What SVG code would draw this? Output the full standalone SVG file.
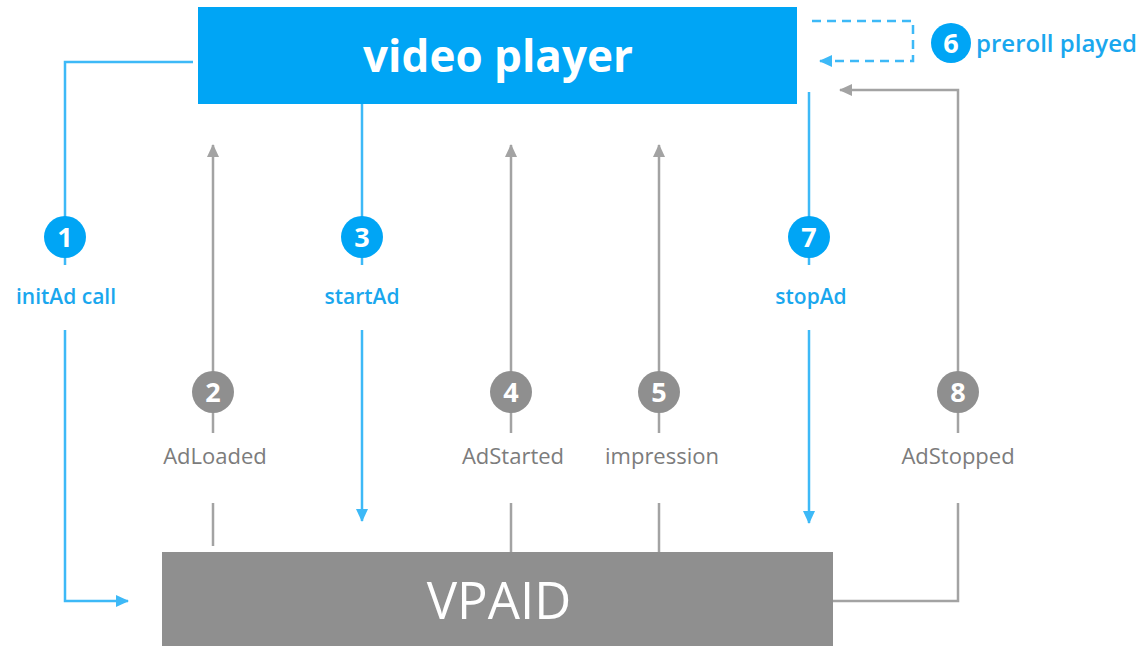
<svg xmlns="http://www.w3.org/2000/svg" width="1140" height="646" viewBox="0 0 1140 646">
<style>
.bl{fill:none;stroke:#3DB9F7;stroke-width:2.5}
.gl{fill:none;stroke:#A3A3A3;stroke-width:2.5}
.dl{fill:none;stroke:#3DB9F7;stroke-width:2.5;stroke-dasharray:9 6}
.bc{fill:#00A5F5}
.gc{fill:#8F8F8F}
.num{font-family:"Open Sans","Noto Sans",sans-serif;font-weight:700;font-size:27px;fill:#fff;text-anchor:middle}
.blab{font-family:"Open Sans","Noto Sans",sans-serif;font-weight:600;font-size:21px;fill:#1AA7EE;text-anchor:middle}
.glab{font-family:"Open Sans","Noto Sans",sans-serif;font-size:22px;fill:#7C7C7C;text-anchor:middle}
</style>
<defs>
<marker id="ab" markerWidth="14" markerHeight="12" refX="12" refY="6" orient="auto" markerUnits="userSpaceOnUse"><path d="M0,0 L13,6 L0,12 Z" fill="#3DB9F7"/></marker>
<marker id="ag" markerWidth="14" markerHeight="12" refX="12" refY="6" orient="auto" markerUnits="userSpaceOnUse"><path d="M0,0 L13,6 L0,12 Z" fill="#A3A3A3"/></marker>
</defs>
<rect width="1140" height="646" fill="#fff"/>
<g id="connectors">
<path class="bl" d="M193,62 H65 V265"/>
<path class="bl" d="M65,330 V601 H128" marker-end="url(#ab)"/>
<path class="bl" d="M362,104 V265"/>
<path class="bl" d="M362,330 V521" marker-end="url(#ab)"/>
<path class="bl" d="M809,92 V265"/>
<path class="bl" d="M809,330 V523" marker-end="url(#ab)"/>
<path class="gl" d="M213,546 V503"/>
<path class="gl" d="M213,433 V145" marker-end="url(#ag)"/>
<path class="gl" d="M511,552 V503"/>
<path class="gl" d="M511,433 V145" marker-end="url(#ag)"/>
<path class="gl" d="M659,552 V503"/>
<path class="gl" d="M659,433 V145" marker-end="url(#ag)"/>
<path class="gl" d="M833,601 H958 V503"/>
<path class="gl" d="M958,433 V90 H840" marker-end="url(#ag)"/>
<path class="dl" d="M812,21 H913 V61 H820" marker-end="url(#ab)"/>
</g>
<g id="video-player">
<rect x="198" y="7" width="599" height="97" fill="#00A5F5"/>
<text x="498" y="72" font-family="Open Sans,Noto Sans,sans-serif" font-weight="700" font-size="44" fill="#fff" text-anchor="middle">video player</text>
</g>
<g id="vpaid">
<rect x="162" y="552" width="671" height="94" fill="#8F8F8F"/>
<text x="499" y="619" font-family="Open Sans,Noto Sans,sans-serif" font-size="51" fill="#fff" text-anchor="middle">VPAID</text>
</g>
<g id="step1"><circle class="bc" cx="65" cy="237" r="21"/><text class="num" x="65" y="247">1</text><text class="blab" x="66" y="304">initAd call</text></g>
<g id="step2"><circle class="gc" cx="213" cy="392" r="21"/><text class="num" x="213" y="402">2</text><text class="glab" x="215" y="464">AdLoaded</text></g>
<g id="step3"><circle class="bc" cx="362" cy="237" r="21"/><text class="num" x="362" y="247">3</text><text class="blab" x="362" y="304">startAd</text></g>
<g id="step4"><circle class="gc" cx="511" cy="392" r="21"/><text class="num" x="511" y="402">4</text><text class="glab" x="513" y="464">AdStarted</text></g>
<g id="step5"><circle class="gc" cx="659" cy="392" r="21"/><text class="num" x="659" y="402">5</text><text class="glab" x="662" y="464">impression</text></g>
<g id="step6"><circle class="bc" cx="951" cy="43" r="20"/><text class="num" x="951" y="53">6</text><text x="976" y="52" font-family="Open Sans,Noto Sans,sans-serif" font-weight="600" font-size="24" fill="#1AA7EE">preroll played</text></g>
<g id="step7"><circle class="bc" cx="809" cy="237" r="21"/><text class="num" x="809" y="247">7</text><text class="blab" x="811" y="304">stopAd</text></g>
<g id="step8"><circle class="gc" cx="958" cy="392" r="21"/><text class="num" x="958" y="402">8</text><text class="glab" x="958" y="464">AdStopped</text></g>
</svg>
